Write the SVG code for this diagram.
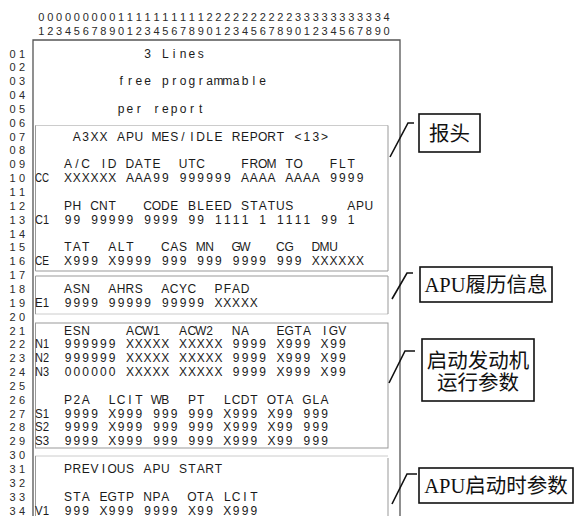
<svg xmlns="http://www.w3.org/2000/svg" width="581" height="516" viewBox="0 0 581 516">
<style>
.t{font-family:"Liberation Sans",Arial,sans-serif;font-size:12px;fill:#1a1a1a;text-anchor:middle}
.h{font-family:"Liberation Sans",Arial,sans-serif;font-size:11px;fill:#2a2a2a;text-anchor:middle}
.n{font-family:"Liberation Sans",Arial,sans-serif;font-size:11px;fill:#2a2a2a;text-anchor:middle}
.lb{font-family:"Liberation Sans",Arial,sans-serif;font-size:12px;fill:#1a1a1a}
.sec{fill:none;stroke:#999;stroke-width:1}
.dot{fill:none;stroke:#999;stroke-width:1;stroke-dasharray:1 1}
.frame{fill:none;stroke:#555;stroke-width:1.3}
.cb{fill:#fff;stroke:#111;stroke-width:1.6}
.cl{fill:none;stroke:#111;stroke-width:1.6}
.ct{font-family:"Liberation Serif","Noto Sans CJK SC",serif;font-size:20.5px;fill:#111;text-anchor:middle}
</style>
<rect width="581" height="516" fill="#fff"/>
<g id="column-ruler">
<text class="h" y="20.5" x="41.4 50.3 59.1 68 76.8 85.7 94.5 103.4 112.2 121.1 129.9 138.8 147.6 156.5 165.3 174.2 183 191.9 200.7 209.6 218.4 227.3 236.1 245 253.8 262.7 271.5 280.4 289.2 298.1 306.9 315.8 324.6 333.5 342.3 351.2 360 368.9 377.7 386.6">0000000001111111111222222222233333333334</text>
<text class="h" y="34.5" x="41.4 50.3 59.1 68 76.8 85.7 94.5 103.4 112.2 121.1 129.9 138.8 147.6 156.5 165.3 174.2 183 191.9 200.7 209.6 218.4 227.3 236.1 245 253.8 262.7 271.5 280.4 289.2 298.1 306.9 315.8 324.6 333.5 342.3 351.2 360 368.9 377.7 386.6">1234567890123456789012345678901234567890</text>
</g>
<g id="row-numbers">
<text class="n" x="12.5 22" y="57.5">01</text>
<text class="n" x="12.5 22" y="71.35">02</text>
<text class="n" x="12.5 22" y="85.2">03</text>
<text class="n" x="12.5 22" y="99.05">04</text>
<text class="n" x="12.5 22" y="112.9">05</text>
<text class="n" x="12.5 22" y="126.75">06</text>
<text class="n" x="12.5 22" y="140.6">07</text>
<text class="n" x="12.5 22" y="154.45">08</text>
<text class="n" x="12.5 22" y="168.3">09</text>
<text class="n" x="12.5 22" y="182.15">10</text>
<text class="n" x="12.5 22" y="196">11</text>
<text class="n" x="12.5 22" y="209.85">12</text>
<text class="n" x="12.5 22" y="223.7">13</text>
<text class="n" x="12.5 22" y="237.55">14</text>
<text class="n" x="12.5 22" y="251.4">15</text>
<text class="n" x="12.5 22" y="265.25">16</text>
<text class="n" x="12.5 22" y="279.1">17</text>
<text class="n" x="12.5 22" y="292.95">18</text>
<text class="n" x="12.5 22" y="306.8">19</text>
<text class="n" x="12.5 22" y="320.65">20</text>
<text class="n" x="12.5 22" y="334.5">21</text>
<text class="n" x="12.5 22" y="348.35">22</text>
<text class="n" x="12.5 22" y="362.2">23</text>
<text class="n" x="12.5 22" y="376.05">24</text>
<text class="n" x="12.5 22" y="389.9">25</text>
<text class="n" x="12.5 22" y="403.75">26</text>
<text class="n" x="12.5 22" y="417.6">27</text>
<text class="n" x="12.5 22" y="431.45">28</text>
<text class="n" x="12.5 22" y="445.3">29</text>
<text class="n" x="12.5 22" y="459.15">30</text>
<text class="n" x="12.5 22" y="473">31</text>
<text class="n" x="12.5 22" y="486.85">32</text>
<text class="n" x="12.5 22" y="500.7">33</text>
<text class="n" x="12.5 22" y="514.55">34</text>
</g>
<g id="frame">
<path class="frame" d="M33 516 V40 H400 V516"/>
</g>
<g id="section-header">
<path class="dot" d="M35.5 125.5 H388"/>
<path class="sec" d="M35.5 125.5 V271 H388 V125.5"/>
</g>
<g id="section-apu-history">
<path class="sec" d="M35.5 314 V276 H388 V314"/>
<path class="dot" d="M35.5 314 H388"/>
</g>
<g id="section-engine-run">
<rect class="sec" x="35.5" y="323" width="352.5" height="125"/>
</g>
<g id="section-apu-start">
<path class="dot" d="M35.5 456 H388"/>
<path class="sec" d="M35.5 456 V516 M388 458 V516"/>
</g>
<g id="free-lines">
<text class="t" xml:space="preserve" y="57.5" x="147.6 156.5 165.3 174.2 183 191.9 200.7">3 Lines</text>
<text class="t" xml:space="preserve" y="85.2" x="121.1 129.9 138.8 147.6 156.5 165.3 174.2 183 191.9 200.7 209.6 218.4 227.3 236.1 245 253.8 262.7">free programmable</text>
<text class="t" xml:space="preserve" y="112.9" x="121.1 129.9 138.8 147.6 156.5 165.3 174.2 183 191.9 200.7">per report</text>
</g>
<g id="report-rows">
<text class="t" xml:space="preserve" y="140.6" x="76.8 85.7 94.5 103.4 112.2 121.1 129.9 138.8 147.6 156.5 165.3 174.2 183 191.9 200.7 209.6 218.4 227.3 236.1 245 253.8 262.7 271.5 280.4 289.2 298.1 306.9 315.8 324.6">A3XX APU MES/IDLE REPORT &lt;13&gt;</text>
<text class="t" xml:space="preserve" y="168.3" x="68 76.8 85.7 94.5 103.4 112.2 121.1 129.9 138.8 147.6 156.5 165.3 174.2 183 191.9 200.7 209.6 218.4 227.3 236.1 245 253.8 262.7 271.5 280.4 289.2 298.1 306.9 315.8 324.6 333.5 342.3 351.2 360 368.9 377.7 386.6">A/C ID DATE  UTC    FROM TO   FLT</text>
<text class="t" xml:space="preserve" y="182.15" x="68 76.8 85.7 94.5 103.4 112.2 121.1 129.9 138.8 147.6 156.5 165.3 174.2 183 191.9 200.7 209.6 218.4 227.3 236.1 245 253.8 262.7 271.5 280.4 289.2 298.1 306.9 315.8 324.6 333.5 342.3 351.2 360 368.9 377.7 386.6">XXXXXX AAA99 999999 AAAA AAAA 9999</text>
<text class="t" xml:space="preserve" y="209.85" x="68 76.8 85.7 94.5 103.4 112.2 121.1 129.9 138.8 147.6 156.5 165.3 174.2 183 191.9 200.7 209.6 218.4 227.3 236.1 245 253.8 262.7 271.5 280.4 289.2 298.1 306.9 315.8 324.6 333.5 342.3 351.2 360 368.9 377.7 386.6">PH CNT   CODE BLEED STATUS      APU</text>
<text class="t" xml:space="preserve" y="223.7" x="68 76.8 85.7 94.5 103.4 112.2 121.1 129.9 138.8 147.6 156.5 165.3 174.2 183 191.9 200.7 209.6 218.4 227.3 236.1 245 253.8 262.7 271.5 280.4 289.2 298.1 306.9 315.8 324.6 333.5 342.3 351.2 360 368.9 377.7 386.6">99 99999 9999 99 1111 1 1111 99 1</text>
<text class="t" xml:space="preserve" y="251.4" x="68 76.8 85.7 94.5 103.4 112.2 121.1 129.9 138.8 147.6 156.5 165.3 174.2 183 191.9 200.7 209.6 218.4 227.3 236.1 245 253.8 262.7 271.5 280.4 289.2 298.1 306.9 315.8 324.6 333.5 342.3 351.2 360 368.9 377.7 386.6">TAT  ALT   CAS MN  GW   CG  DMU</text>
<text class="t" xml:space="preserve" y="265.25" x="68 76.8 85.7 94.5 103.4 112.2 121.1 129.9 138.8 147.6 156.5 165.3 174.2 183 191.9 200.7 209.6 218.4 227.3 236.1 245 253.8 262.7 271.5 280.4 289.2 298.1 306.9 315.8 324.6 333.5 342.3 351.2 360 368.9 377.7 386.6">X999 X9999 999 999 9999 999 XXXXXX</text>
<text class="t" xml:space="preserve" y="292.95" x="68 76.8 85.7 94.5 103.4 112.2 121.1 129.9 138.8 147.6 156.5 165.3 174.2 183 191.9 200.7 209.6 218.4 227.3 236.1 245 253.8 262.7 271.5 280.4 289.2 298.1 306.9 315.8 324.6 333.5 342.3 351.2 360 368.9 377.7 386.6">ASN  AHRS  ACYC  PFAD</text>
<text class="t" xml:space="preserve" y="306.8" x="68 76.8 85.7 94.5 103.4 112.2 121.1 129.9 138.8 147.6 156.5 165.3 174.2 183 191.9 200.7 209.6 218.4 227.3 236.1 245 253.8 262.7 271.5 280.4 289.2 298.1 306.9 315.8 324.6 333.5 342.3 351.2 360 368.9 377.7 386.6">9999 99999 99999 XXXXX</text>
<text class="t" xml:space="preserve" y="334.5" x="68 76.8 85.7 94.5 103.4 112.2 121.1 129.9 138.8 147.6 156.5 165.3 174.2 183 191.9 200.7 209.6 218.4 227.3 236.1 245 253.8 262.7 271.5 280.4 289.2 298.1 306.9 315.8 324.6 333.5 342.3 351.2 360 368.9 377.7 386.6">ESN    ACW1  ACW2  NA   EGTA IGV</text>
<text class="t" xml:space="preserve" y="348.35" x="68 76.8 85.7 94.5 103.4 112.2 121.1 129.9 138.8 147.6 156.5 165.3 174.2 183 191.9 200.7 209.6 218.4 227.3 236.1 245 253.8 262.7 271.5 280.4 289.2 298.1 306.9 315.8 324.6 333.5 342.3 351.2 360 368.9 377.7 386.6">999999 XXXXX XXXXX 9999 X999 X99</text>
<text class="t" xml:space="preserve" y="362.2" x="68 76.8 85.7 94.5 103.4 112.2 121.1 129.9 138.8 147.6 156.5 165.3 174.2 183 191.9 200.7 209.6 218.4 227.3 236.1 245 253.8 262.7 271.5 280.4 289.2 298.1 306.9 315.8 324.6 333.5 342.3 351.2 360 368.9 377.7 386.6">999999 XXXXX XXXXX 9999 X999 X99</text>
<text class="t" xml:space="preserve" y="376.05" x="68 76.8 85.7 94.5 103.4 112.2 121.1 129.9 138.8 147.6 156.5 165.3 174.2 183 191.9 200.7 209.6 218.4 227.3 236.1 245 253.8 262.7 271.5 280.4 289.2 298.1 306.9 315.8 324.6 333.5 342.3 351.2 360 368.9 377.7 386.6">000000 XXXXX XXXXX 9999 X999 X99</text>
<text class="t" xml:space="preserve" y="403.75" x="68 76.8 85.7 94.5 103.4 112.2 121.1 129.9 138.8 147.6 156.5 165.3 174.2 183 191.9 200.7 209.6 218.4 227.3 236.1 245 253.8 262.7 271.5 280.4 289.2 298.1 306.9 315.8 324.6 333.5 342.3 351.2 360 368.9 377.7 386.6">P2A  LCIT WB  PT  LCDT OTA GLA</text>
<text class="t" xml:space="preserve" y="417.6" x="68 76.8 85.7 94.5 103.4 112.2 121.1 129.9 138.8 147.6 156.5 165.3 174.2 183 191.9 200.7 209.6 218.4 227.3 236.1 245 253.8 262.7 271.5 280.4 289.2 298.1 306.9 315.8 324.6 333.5 342.3 351.2 360 368.9 377.7 386.6">9999 X999 999 999 X999 X99 999</text>
<text class="t" xml:space="preserve" y="431.45" x="68 76.8 85.7 94.5 103.4 112.2 121.1 129.9 138.8 147.6 156.5 165.3 174.2 183 191.9 200.7 209.6 218.4 227.3 236.1 245 253.8 262.7 271.5 280.4 289.2 298.1 306.9 315.8 324.6 333.5 342.3 351.2 360 368.9 377.7 386.6">9999 X999 999 999 X999 X99 999</text>
<text class="t" xml:space="preserve" y="445.3" x="68 76.8 85.7 94.5 103.4 112.2 121.1 129.9 138.8 147.6 156.5 165.3 174.2 183 191.9 200.7 209.6 218.4 227.3 236.1 245 253.8 262.7 271.5 280.4 289.2 298.1 306.9 315.8 324.6 333.5 342.3 351.2 360 368.9 377.7 386.6">9999 X999 999 999 X999 X99 999</text>
<text class="t" xml:space="preserve" y="473" x="68 76.8 85.7 94.5 103.4 112.2 121.1 129.9 138.8 147.6 156.5 165.3 174.2 183 191.9 200.7 209.6 218.4 227.3 236.1 245 253.8 262.7 271.5 280.4 289.2 298.1 306.9 315.8 324.6 333.5 342.3 351.2 360 368.9 377.7 386.6">PREVIOUS APU START</text>
<text class="t" xml:space="preserve" y="500.7" x="68 76.8 85.7 94.5 103.4 112.2 121.1 129.9 138.8 147.6 156.5 165.3 174.2 183 191.9 200.7 209.6 218.4 227.3 236.1 245 253.8 262.7 271.5 280.4 289.2 298.1 306.9 315.8 324.6 333.5 342.3 351.2 360 368.9 377.7 386.6">STA EGTP NPA  OTA LCIT</text>
<text class="t" xml:space="preserve" y="514.55" x="68 76.8 85.7 94.5 103.4 112.2 121.1 129.9 138.8 147.6 156.5 165.3 174.2 183 191.9 200.7 209.6 218.4 227.3 236.1 245 253.8 262.7 271.5 280.4 289.2 298.1 306.9 315.8 324.6 333.5 342.3 351.2 360 368.9 377.7 386.6">999 X999 9999 X99 X999</text>
</g>
<g id="row-codes">
<text class="lb" x="35" y="182.15" textLength="14" lengthAdjust="spacingAndGlyphs">CC</text>
<text class="lb" x="35" y="223.7" textLength="14" lengthAdjust="spacingAndGlyphs">C1</text>
<text class="lb" x="35" y="265.25" textLength="14" lengthAdjust="spacingAndGlyphs">CE</text>
<text class="lb" x="35" y="306.8" textLength="14" lengthAdjust="spacingAndGlyphs">E1</text>
<text class="lb" x="35" y="348.35" textLength="14" lengthAdjust="spacingAndGlyphs">N1</text>
<text class="lb" x="35" y="362.2" textLength="14" lengthAdjust="spacingAndGlyphs">N2</text>
<text class="lb" x="35" y="376.05" textLength="14" lengthAdjust="spacingAndGlyphs">N3</text>
<text class="lb" x="35" y="417.6" textLength="14" lengthAdjust="spacingAndGlyphs">S1</text>
<text class="lb" x="35" y="431.45" textLength="14" lengthAdjust="spacingAndGlyphs">S2</text>
<text class="lb" x="35" y="445.3" textLength="14" lengthAdjust="spacingAndGlyphs">S3</text>
<text class="lb" x="35" y="514.55" textLength="14" lengthAdjust="spacingAndGlyphs">V1</text>
</g>
<g id="connectors">
<path class="cl" d="M390 157 L408 123 H414"/>
<path class="cl" d="M392 299 L407 273 H413"/>
<path class="cl" d="M389 383 L405 351 H415"/>
<path class="cl" d="M392 504 L407 474 H417"/>
</g>
<g id="label-header">
<rect class="cb" x="419" y="114" width="61" height="38"/>
<text class="ct" x="449.5" y="141">报头</text>
</g>
<g id="label-apu-history">
<rect class="cb" x="420" y="267" width="132" height="35"/>
<text class="ct" x="486" y="292">APU履历信息</text>
</g>
<g id="label-engine-run">
<rect class="cb" x="422" y="339" width="112" height="62"/>
<text class="ct" x="478" y="367.5">启动发动机</text>
<text class="ct" x="478" y="389.5">运行参数</text>
</g>
<g id="label-apu-start">
<rect class="cb" x="419" y="468" width="154" height="35"/>
<text class="ct" x="496" y="493">APU启动时参数</text>
</g>
</svg>
